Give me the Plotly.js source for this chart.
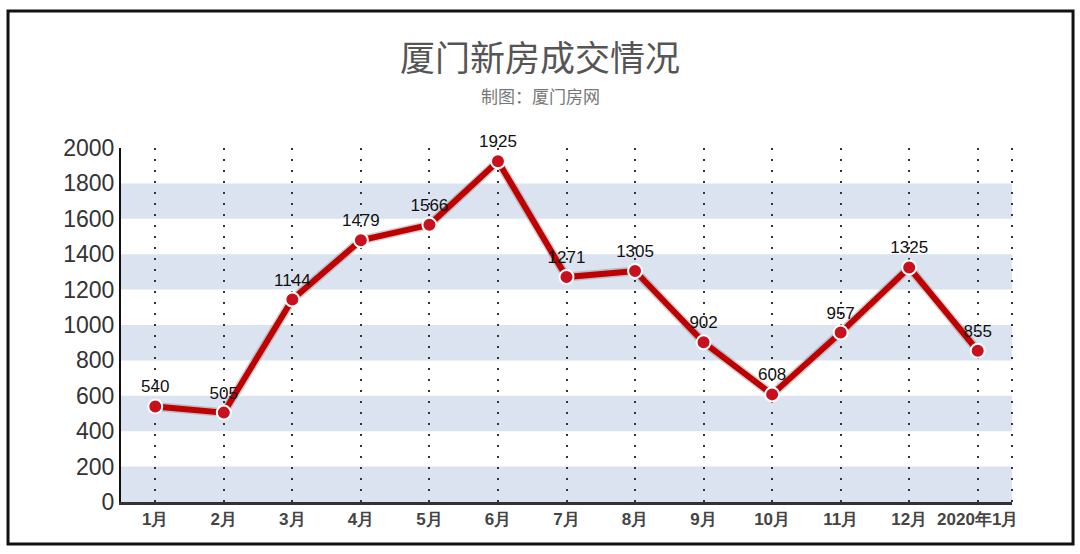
<!DOCTYPE html>
<html>
<head>
<meta charset="utf-8">
<script src="https://cdn.plot.ly/plotly-3.0.1.min.js"></script>
<style>html,body{margin:0;padding:0;background:#fff;}#chart{width:1080px;height:554px;}</style>
</head>
<body>
<div id="chart"></div>
<script>
const categories = ["1月","2月","3月","4月","5月","6月","7月","8月","9月","10月","11月","12月","2020年1月"];
const values = [540, 505, 1144, 1479, 1566, 1925, 1271, 1305, 902, 608, 957, 1325, 855];
const yTicks = [0,200,400,600,800,1000,1200,1400,1600,1800,2000];
const bands = [[0,200],[400,600],[800,1000],[1200,1400],[1600,1800]];

const tickText = categories.map(c => '<b>' + c + '</b>');

const shapes = bands.map(b => ({
  type: 'rect', xref: 'paper', yref: 'y', x0: 0, x1: 1, y0: b[0], y1: b[1],
  fillcolor: '#dae3ef', line: {width: 0}, layer: 'below'
}));
// right edge dotted line
shapes.push({type:'line', xref:'paper', yref:'paper', x0:1, x1:1, y0:0, y1:1,
  line:{color:'#333', width:2, dash:'2px,9px'}, layer:'below'});
// outer frame
shapes.push({type:'rect', xref:'paper', yref:'paper', x0:-0.1268, x1:1.0685, y0:-0.1186, y1:1.387,
  line:{color:'#111', width:3}, fillcolor:'rgba(0,0,0,0)'});

const traces = [
  {
    x: categories, y: values, type: 'scatter', mode: 'lines',
    line: {color: 'rgba(120,120,120,0.35)', width: 9},
    hoverinfo: 'skip', showlegend: false
  },
  {
    x: categories, y: values, type: 'scatter', mode: 'lines+markers+text',
    text: values.map(String), textposition: 'top center',
    textfont: {family: 'Liberation Sans, Arial, sans-serif', size: 17, color: '#111'},
    line: {color: '#c00000', width: 6},
    marker: {size: 14, color: '#c8101e', line: {color: '#fff', width: 2}},
    showlegend: false, cliponaxis: false
  }
];

const layout = {
  width: 1080, height: 554,
  margin: {l: 121, r: 68, t: 148, b: 52},
  paper_bgcolor: '#fff', plot_bgcolor: 'rgba(0,0,0,0)',
  title: {
    text: '厦门新房成交情况',
    font: {family: 'Noto Sans CJK SC, sans-serif', size: 35, color: '#555'},
    x: 0.5, xanchor: 'center', y: 1 - 59/554, yanchor: 'middle', yref: 'container'
  },
  annotations: [{
    text: '制图：厦门房网', xref: 'paper', yref: 'paper', x: (540-121)/891, y: (502-95)/354,
    xanchor: 'center', yanchor: 'middle', showarrow: false,
    font: {family: 'Noto Sans CJK SC, sans-serif', size: 17, color: '#777'}
  }],
  xaxis: {
    type: 'category', range: [-0.5, 12.5],
    tickvals: categories, ticktext: tickText,
    tickfont: {family: 'Liberation Sans, Arial, sans-serif', size: 17, color: '#444'},
    showgrid: true, gridcolor: '#333', gridwidth: 2, griddash: '2px,9px',
    showline: true, linecolor: '#333', linewidth: 3,
    ticks: '', zeroline: false, fixedrange: true
  },
  yaxis: {
    range: [0, 2000], tickvals: yTicks,
    tickfont: {family: 'Liberation Sans, Arial, sans-serif', size: 23, color: '#333'},
    showgrid: false, showline: true, linecolor: '#111', linewidth: 2,
    ticks: '', zeroline: false, fixedrange: true
  },
  shapes: shapes
};

Plotly.newPlot('chart', traces, layout, {displayModeBar: false, staticPlot: true});
</script>
</body>
</html>
